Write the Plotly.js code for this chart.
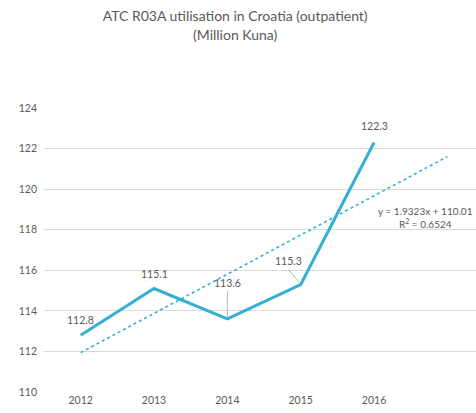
<!DOCTYPE html>
<html>
<head>
<meta charset="utf-8">
<script src="https://cdn.plot.ly/plotly-3.0.1.min.js"></script>
<style>html,body{margin:0;padding:0;background:#fff;}#chart{width:476px;height:413px;}</style>
</head>
<body>
<div id="chart"></div>
<script>
const years = ["2012", "2013", "2014", "2015", "2016"];
const values = [112.8, 115.1, 113.6, 115.3, 122.3];
const yTicks = [110, 112, 114, 116, 118, 120, 122, 124];
const trendSlope = 1.9323;
const trendIntercept = 110.01;
const trendLabel = "y = 1.9323x + 110.01<br>R<sup>2</sup> = 0.6524";

const idx = years.map((_, i) => i + 1);
const trendX = [1, years.length + 1];
const trendY = trendX.map(x => trendSlope * x + trendIntercept);

const lineColor = "#35afd2";
const textColor = "#595959";
const fontFam = "Lato, 'Open Sans', sans-serif";

const traces = [
  {x: trendX, y: trendY, mode: "lines", line: {color: lineColor, width: 1.6, dash: "dot"}, hoverinfo: "skip"},
  {x: idx, y: values, mode: "lines", line: {color: lineColor, width: 3}, hoverinfo: "skip"}
];

// data labels
const labelCfg = [
  {ay: 0, ys: 15, lead: false},
  {ay: 0, ys: 15, lead: false},
  {ay: -28, ax: 0, lead: true},
  {ay: -15, ax: -12, lead: true},
  {ay: 0, ys: 16, lead: false}
];
const annotations = values.map((v, i) => {
  const c = labelCfg[i];
  if (c.lead) {
    return {x: idx[i], y: v, text: v.toFixed(1), showarrow: true, arrowhead: 0, arrowwidth: 0.8,
      arrowcolor: "#a6a6a6", ax: c.ax, ay: c.ay, standoff: 1, yanchor: "bottom",
      font: {family: fontFam, size: 10.5, color: textColor}};
  }
  return {x: idx[i], y: v, text: v.toFixed(1), showarrow: false, yshift: c.ys,
    font: {family: fontFam, size: 10.5, color: textColor}};
});
annotations.push({xref: "paper", x: 1, xanchor: "right", xshift: -1, y: 118.6, text: trendLabel, showarrow: false, align: "center",
  font: {family: fontFam, size: 10, color: textColor}});

const layout = {
  width: 476, height: 413,
  margin: {l: 44, r: 0, t: 108, b: 21},
  paper_bgcolor: "#fff", plot_bgcolor: "#fff",
  showlegend: false,
  title: {text: "ATC R03A utilisation in Croatia (outpatient)<br>(Million Kuna)", x: 0.494, xanchor: "center", y: 0.948, yanchor: "top",
    font: {family: fontFam, size: 14, color: textColor}},
  xaxis: {range: [0.5, 6.39], tickvals: idx, ticktext: years, showgrid: false, zeroline: false,
    showline: false, ticks: "", tickfont: {family: fontFam, size: 10.5, color: textColor}, fixedrange: true},
  yaxis: {range: [110, 124], tickvals: yTicks, showgrid: true, gridcolor: "#d9d9d9", gridwidth: 1,
    zeroline: false, showline: false, ticks: "", ticklabelstandoff: 6,
    tickfont: {family: fontFam, size: 10.5, color: textColor}, fixedrange: true},
  annotations: annotations
};
Plotly.newPlot("chart", traces, layout, {displayModeBar: false, staticPlot: true});
</script>
</body>
</html>
